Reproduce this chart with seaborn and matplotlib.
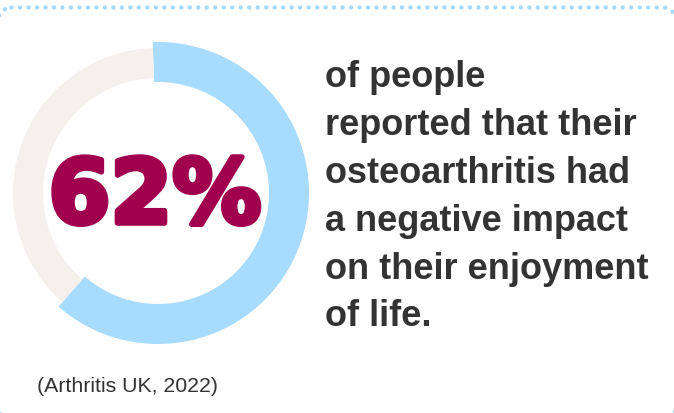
import matplotlib
matplotlib.use("Agg")
import numpy as np
import matplotlib.pyplot as plt
import matplotlib.patheffects as pe
from matplotlib.path import Path
from matplotlib.patches import PathPatch
import seaborn as sns

# ---- data ----
labels = ["Negative impact", "Other"]
values = [62, 38]
headline = "62%"
body_lines = ["of people", "reported that their", "osteoarthritis had",
              "a negative impact", "on their enjoyment", "of life."]
source = "(Arthritis UK, 2022)"

sns.set_theme(style="white")
plt.rcParams['font.family'] = ['Liberation Sans', 'DejaVu Sans']

blue = "#A7DBFF"
grey = "#F4F0EC"
magenta = "#A0004E"
textc = "#333333"

W, H = 674, 414
fig = plt.figure(figsize=(W / 100, H / 100), dpi=100)
fig.patch.set_facecolor("white")

bg = fig.add_axes([0, 0, 1, 1])
bg.set_xlim(0, W)
bg.set_ylim(H, 0)
bg.set_autoscale_on(False)
bg.axis("off")


def rounded_rect(L, T, R, B, r, n=12):
    pts = []
    corners = [((R - r, T + r), -90, 0), ((R - r, B - r), 0, 90),
               ((L + r, B - r), 90, 180), ((L + r, T + r), 180, 270)]
    pts.append((L + r, T))
    for (ccx, ccy), a0, a1 in corners:
        for a in np.linspace(np.radians(a0), np.radians(a1), n):
            pts.append((ccx + r * np.cos(a), ccy + r * np.sin(a)))
    pts.append((L + r, T))
    return Path(pts)


border = PathPatch(rounded_rect(-2.5, 8.5, 676.5, 420.5, 14), facecolor="none",
                   edgecolor="#A6DAFF", linewidth=3.2,
                   linestyle=(0, (0.01, 1.9)), capstyle="round")
bg.add_patch(border)

# donut
cx, cy, half = 158, 194, 160
ax = fig.add_axes([(cx - half) / W, (H - cy - half) / H, 2 * half / W, 2 * half / H])
ax.pie(values, radius=151, startangle=92, counterclock=False,
       colors=[blue, "none"], wedgeprops=dict(width=40, linewidth=0))
ax.pie(values, radius=145, startangle=92, counterclock=False,
       colors=["none", grey], wedgeprops=dict(width=30, linewidth=0))
ax.set_xlim(-half, half)
ax.set_ylim(-half, half)
ax.axis("off")

bg.text(155, 224, headline, ha="center", va="baseline", color=magenta,
        fontsize=64, fontweight="bold", family=["DejaVu Sans"],
        path_effects=[pe.withStroke(linewidth=4, foreground=magenta)])

for i, line in enumerate(body_lines):
    bg.text(325, 87 + 47.9 * i, line, ha="left", va="baseline", color=textc,
            fontsize=26, fontweight="bold")

bg.text(37, 392, source, ha="left", va="baseline", color=textc, fontsize=15.3)

fig.savefig("out.png", dpi=100, facecolor="white")
